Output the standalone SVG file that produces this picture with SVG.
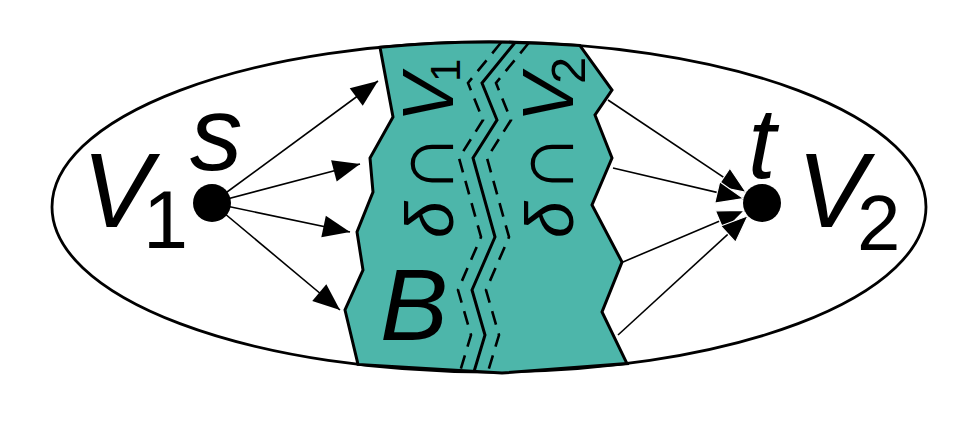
<svg xmlns="http://www.w3.org/2000/svg" width="963" height="431" viewBox="0 0 963 431">
  <style>
    .lbl { font-family: "Liberation Sans", Arial, sans-serif; fill: #000; }
    .it { font-style: italic; }
    .edge { stroke: #000; stroke-width: 1.6; fill: none; }
    .cut { stroke: #000; stroke-width: 3; fill: none; stroke-linejoin: miter; }
    .dash { stroke: #000; stroke-width: 2.6; fill: none; stroke-dasharray: 14 9; }
  </style>
  <defs>
    <marker id="head" markerUnits="userSpaceOnUse" viewBox="0 0 28 22" markerWidth="28" markerHeight="22" refX="27" refY="11" orient="auto" overflow="visible">
      <path d="M0,0 L27,11 L0,22 Z" fill="#000"/>
    </marker>
    <marker id="headW" markerUnits="userSpaceOnUse" viewBox="0 0 28 22" markerWidth="28" markerHeight="22" refX="27" refY="11" orient="auto" overflow="visible">
      <path d="M0,0 L27,11 L0,22 Z" fill="#000" stroke="#fff" stroke-width="1.2"/>
    </marker>
    <clipPath id="bandClip">
      <path d="M380,47.3 A437,165 0 0 1 580,45.6 L612,90 L595,115 L612,158 L592,205 L622,262 L602,312 L627,363.6 L502,373 L358,364.4 L345,310 L363,270 L357,232 L373,192 L370,158 L393,117 Z"/>
    </clipPath>
  </defs>

  <!-- whole vertex set -->
  <g id="graph">
    <ellipse cx="489" cy="207" rx="437" ry="165" fill="#fff" stroke="#000" stroke-width="2.8"/>
  </g>

  <!-- cut band B, split into the V1 side and the V2 side -->
  <g id="band">
    <path d="M380,47.3 A437,165 0 0 1 580,45.6 L612,90 L595,115 L612,158 L592,205 L622,262 L602,312 L627,363.6 L502,373 L358,364.4 L345,310 L363,270 L357,232 L373,192 L370,158 L393,117 Z" fill="#4db6aa" stroke="#000" stroke-width="3" stroke-linejoin="miter"/>
    <g clip-path="url(#bandClip)">
      <polyline class="cut" points="530,25 513,45 482,83 497,120 473,158 495,237 472,290 485,335 470,385"/>
      <polyline class="dash" points="516,25 499,45 468,83 483,120 459,158 481,237 458,290 471,335 456,385"/>
      <polyline class="dash" points="544,25 527,45 496,83 511,120 487,158 509,237 486,290 499,335 484,385"/>
    </g>
    <text class="lbl it" x="380" y="340" font-size="102">B</text>
  </g>

  <!-- rotated label on the V1 side -->
  <g id="label-left" transform="translate(453,238) rotate(-90)">
    <text class="lbl it" x="0" y="0" font-size="66">δ</text>
    <text class="lbl" x="44" y="0" font-size="84">∩</text>
    <text class="lbl it" x="116" y="0" font-size="72">V</text>
    <text class="lbl" x="156" y="7" font-size="42">1</text>
  </g>

  <!-- rotated label on the V2 side -->
  <g id="label-right" transform="translate(573,238) rotate(-90)">
    <text class="lbl it" x="0" y="0" font-size="66">δ</text>
    <text class="lbl" x="44" y="0" font-size="84">∩</text>
    <text class="lbl it" x="116" y="0" font-size="72">V</text>
    <text class="lbl" x="154" y="12" font-size="49">2</text>
  </g>

  <!-- connectors -->
  <g id="edges">
    <line class="edge" x1="212" y1="203" x2="378" y2="81" marker-end="url(#head)"/>
    <line class="edge" x1="212" y1="203" x2="360" y2="164" marker-end="url(#head)"/>
    <line class="edge" x1="212" y1="203" x2="350" y2="232" marker-end="url(#head)"/>
    <line class="edge" x1="212" y1="203" x2="340" y2="310" marker-end="url(#head)"/>
    <line class="edge" x1="608" y1="100" x2="746.2" y2="192.4" marker-end="url(#headW)"/>
    <line class="edge" x1="613" y1="168" x2="743.5" y2="198.6" marker-end="url(#headW)"/>
    <line class="edge" x1="623" y1="262" x2="744.5" y2="210.4" marker-end="url(#headW)"/>
    <line class="edge" x1="618" y1="335" x2="748" y2="215.8" marker-end="url(#headW)"/>
  </g>

  <!-- source s in V1 -->
  <g id="node-s">
    <circle cx="212" cy="203" r="19" fill="#000"/>
    <text class="lbl it" x="190" y="170" font-size="105">s</text>
    <text class="lbl it" x="82" y="227" font-size="105">V</text>
    <text class="lbl" x="143" y="248" font-size="81">1</text>
  </g>

  <!-- sink t in V2 -->
  <g id="node-t">
    <circle cx="762" cy="203" r="19" fill="#000"/>
    <text class="lbl it" x="748" y="178" font-size="100">t</text>
    <text class="lbl it" x="797" y="227" font-size="105">V</text>
    <text class="lbl" x="857" y="250" font-size="78">2</text>
  </g>
</svg>
